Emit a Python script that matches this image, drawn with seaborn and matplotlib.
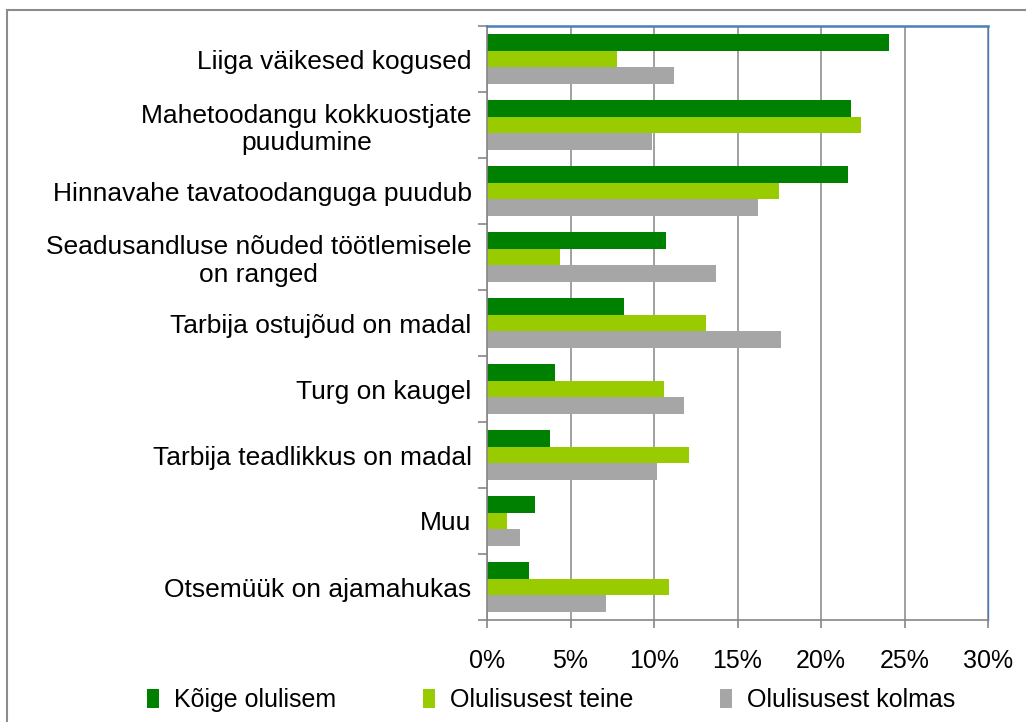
#bar chart of reasons (Estonian survey) - horizontal grouped bars
import pandas as pd
import numpy as np
import matplotlib
import matplotlib.pyplot as plt
from matplotlib.patches import Rectangle
from matplotlib.ticker import FixedLocator, PercentFormatter
import seaborn as sns

sns.set_style('white')
matplotlib.rcParams['font.family'] = ['Liberation Sans', 'DejaVu Sans']
matplotlib.rcParams['text.color'] = 'black'
matplotlib.rcParams['xtick.labelcolor'] = 'black'
matplotlib.rcParams['ytick.labelcolor'] = 'black'

categories = ['Liiga väikesed kogused',
              'Mahetoodangu kokkuostjate\npuudumine',
              'Hinnavahe tavatoodanguga puudub',
              'Seadusandluse nõuded töötlemisele\non ranged',
              'Tarbija ostujõud on madal',
              'Turg on kaugel',
              'Tarbija teadlikkus on madal',
              'Muu',
              'Otsemüük on ajamahukas']
series_names = ['Kõige olulisem', 'Olulisusest teine', 'Olulisusest kolmas']
kõige = [24.1, 21.8, 21.6, 10.7, 8.2, 4.1, 3.8, 2.9, 2.5]
teine = [7.8, 22.4, 17.5, 4.4, 13.1, 10.6, 12.1, 1.2, 10.9]
kolmas = [11.2, 9.9, 16.2, 13.7, 17.6, 11.8, 10.2, 2.0, 7.1]
colors = ['#008000', '#99CC00', '#A6A6A6']

# long format for seaborn
rows = []
for name, vals in zip(series_names, [kõige, teine, kolmas]):
    for cat, v in zip(categories, vals):
        rows.append({'cat': cat, 'series': name, 'value': v})
df = pd.DataFrame(rows)

fig = plt.figure(figsize=(10.26, 7.22), dpi=100)
ax = fig.add_axes([487/1026, 1 - 620/722, 501/1026, 594/722])

sns.barplot(data=df, y='cat', x='value', hue='series', order=categories,
            hue_order=series_names, palette=colors, width=0.76,
            saturation=1, orient='h', linewidth=0, ax=ax)

ax.set_xlim(0, 30)
ax.set_ylim(len(categories) - 0.5, -0.5)
ax.set_xticks(np.arange(0, 31, 5))
ax.xaxis.set_major_formatter(PercentFormatter(decimals=0))
ax.grid(axis='x', color='#868686', linewidth=1.1)
ax.set_axisbelow(True)
ax.set_xlabel('')
ax.set_ylabel('')

# spines like excel
for s in ['left', 'bottom']:
    ax.spines[s].set_color('#868686')
    ax.spines[s].set_linewidth(1.2)
ax.spines['top'].set_color('#4A7EBB')
ax.spines['top'].set_linewidth(1.8)
ax.spines['right'].set_color('#4A7EBB')
ax.spines['right'].set_linewidth(1.0)

ax.tick_params(axis='y', which='major', length=0, pad=11, labelsize=19)
ax.yaxis.set_minor_locator(FixedLocator(np.arange(-0.5, len(categories), 1)))
ax.tick_params(axis='y', which='minor', length=6.5, width=1.2, color='#868686', direction='out', left=True)
ax.tick_params(axis='x', length=6, width=1.2, color='#868686', direction='out', pad=15, bottom=True)
for lab in ax.get_yticklabels():
    lab.set_multialignment('center')
for lab in ax.get_xticklabels():
    lab.set_family(['Liberation Sans Narrow', 'Liberation Sans'])
    lab.set_fontsize(18)

# legend under the chart
sns.move_legend(ax, 'center', bbox_to_anchor=(0.128, -0.135), ncol=3, frameon=False,
                title=None, handlelength=0.45, handleheight=0.8, handletextpad=0.6,
                columnspacing=3.5, prop={'family': ['Liberation Sans Narrow', 'Liberation Sans'], 'size': 18})

# outer chart border (partly outside the picture)
fig.patches.append(Rectangle((7/1026, -0.1), 1.2, 1.1 - 10/722, transform=fig.transFigure,
                             fill=False, edgecolor='#8C8C8C', linewidth=1.5))

plt.savefig('out.png', dpi=100)
